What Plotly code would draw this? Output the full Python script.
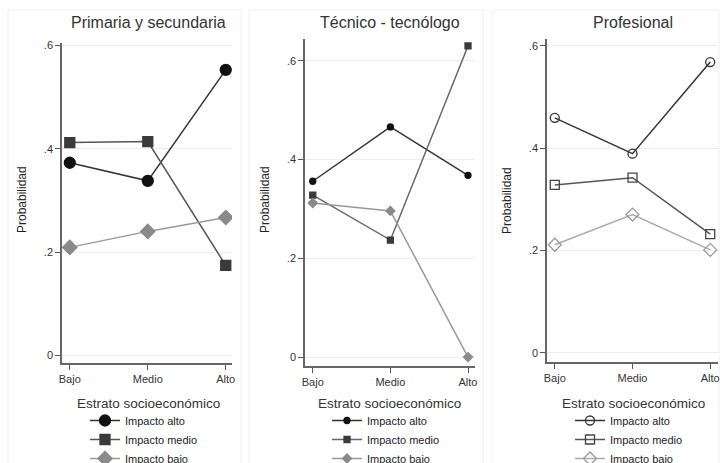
import plotly.graph_objects as go

W, H = 722, 463

categories = ["Bajo", "Medio", "Alto"]
series_names = ["Impacto alto", "Impacto medio", "Impacto bajo"]
panel_titles = ["Primaria y secundaria", "Técnico - tecnólogo", "Profesional"]

primaria_alto = [0.373, 0.338, 0.553]
primaria_medio = [0.412, 0.414, 0.174]
primaria_bajo = [0.209, 0.240, 0.267]

tecnico_alto = [0.356, 0.466, 0.368]
tecnico_medio = [0.328, 0.237, 0.630]
tecnico_bajo = [0.312, 0.296, 0.0]

profesional_alto = [0.459, 0.389, 0.568]
profesional_medio = [0.328, 0.342, 0.232]
profesional_bajo = [0.211, 0.270, 0.201]

y_tickvals = [0, 0.2, 0.4, 0.6]
y_ticktext = ["0", ".2", ".4", ".6"]

panels_data = [
    [primaria_alto, primaria_medio, primaria_bajo],
    [tecnico_alto, tecnico_medio, tecnico_bajo],
    [profesional_alto, profesional_medio, profesional_bajo],
]

# layout geometry (pixels)
geo = [
    dict(x0=62, x1=232, y0=43, y1=363, xr=[-0.1, 2.08], yr=[-0.015, 0.605], cx=148),
    dict(x0=305, x1=475, y0=39, y1=366, xr=[-0.1, 2.09], yr=[-0.018, 0.644], cx=390),
    dict(x0=547, x1=718, y0=39, y1=362, xr=[-0.1, 2.1], yr=[-0.018, 0.613], cx=633),
]

styles = [
    [  # panel 1: filled, large
        dict(symbol="circle", size=11, mcolor="#111111", lcolor="#333333"),
        dict(symbol="square", size=10, mcolor="#3a3a3a", lcolor="#555555"),
        dict(symbol="diamond", size=11, mcolor="#8a8a8a", lcolor="#999999"),
    ],
    [  # panel 2: filled, small
        dict(symbol="circle", size=6, mcolor="#111111", lcolor="#333333"),
        dict(symbol="square", size=6, mcolor="#3a3a3a", lcolor="#666666"),
        dict(symbol="diamond", size=7, mcolor="#8a8a8a", lcolor="#999999"),
    ],
    [  # panel 3: hollow
        dict(symbol="circle-open", size=9, mcolor="#333333", lcolor="#333333"),
        dict(symbol="square-open", size=9, mcolor="#444444", lcolor="#555555"),
        dict(symbol="diamond-open", size=10, mcolor="#999999", lcolor="#aaaaaa"),
    ],
]

fig = go.Figure()
xnum = [0, 1, 2]
legend_ids = ["legend", "legend2", "legend3"]

for p in range(3):
    ax = "" if p == 0 else str(p + 1)
    for s in range(3):
        st = styles[p][s]
        fig.add_trace(go.Scatter(
            x=xnum, y=panels_data[p][s], mode="lines+markers",
            name=series_names[s],
            xaxis="x" + ax, yaxis="y" + ax,
            legend=legend_ids[p],
            line=dict(color=st["lcolor"], width=1.5),
            marker=dict(symbol=st["symbol"], size=st["size"], color=st["mcolor"],
                        line=dict(color=st["mcolor"], width=1.3)),
        ))

layout = dict(
    width=W, height=H,
    margin=dict(l=0, r=0, t=0, b=0, autoexpand=False),
    paper_bgcolor="white", plot_bgcolor="white",
    font=dict(family="Liberation Sans, Arial, sans-serif", color="#333333"),
    showlegend=True,
)

annotations = []
shapes = []
for p in range(3):
    g = geo[p]
    ax = "" if p == 0 else str(p + 1)
    layout["xaxis" + ax] = dict(
        domain=[g["x0"] / W, g["x1"] / W], range=g["xr"],
        anchor="y" + ax,
        tickvals=xnum, ticktext=categories,
        ticks="outside", ticklen=5, tickcolor="#555555",
        showline=True, linecolor="#666666", linewidth=1.5,
        showgrid=False, zeroline=False,
        tickfont=dict(size=11, color="#333333"),
    )
    layout["yaxis" + ax] = dict(
        domain=[1 - g["y1"] / H, 1 - g["y0"] / H], range=g["yr"],
        anchor="x" + ax,
        tickvals=y_tickvals, ticktext=y_ticktext,
        ticks="outside", ticklen=5, tickcolor="#555555",
        showline=True, linecolor="#666666", linewidth=1.5,
        showgrid=True, gridcolor="#eeeeee", gridwidth=1,
        zeroline=False,
        tickfont=dict(size=11, color="#333333"),
    )
    # panel title
    annotations.append(dict(
        text=panel_titles[p], x=g["cx"] / W, y=1 - 22 / H, xref="paper", yref="paper",
        showarrow=False, xanchor="center", yanchor="middle",
        font=dict(size=16, color="#333333")))
    # y title
    annotations.append(dict(
        text="Probabilidad", x=(g["x0"] - 40) / W, y=1 - 200 / H, xref="paper", yref="paper",
        showarrow=False, textangle=-90, xanchor="center", yanchor="middle",
        font=dict(size=12, color="#222222")))
    # x title
    annotations.append(dict(
        text="Estrato socioeconómico", x=g["cx"] / W, y=1 - 403 / H, xref="paper", yref="paper",
        showarrow=False, xanchor="center", yanchor="middle",
        font=dict(size=13.5, color="#333333")))
    # legend
    layout[legend_ids[p]] = dict(
        x=(g["cx"] - 63) / W, y=1 - 406 / H, xanchor="left", yanchor="top",
        xref="container", yref="container",
        bgcolor="rgba(0,0,0,0)", font=dict(size=11, color="#222222"),
        tracegroupgap=0, itemwidth=30,
    )

# faint panel borders
borders = [(8, 241), (249, 483), (492, 719)]
for x0, x1 in borders:
    shapes.append(dict(type="rect", xref="paper", yref="paper",
                       x0=x0 / W, x1=x1 / W, y0=-0.05, y1=1 - 10 / H,
                       line=dict(color="#f0f0f0", width=1), layer="below"))

layout["annotations"] = annotations
layout["shapes"] = shapes
fig.update_layout(**layout)

fig.write_html("out.html", config={"displayModeBar": False})

# remove the default page margin so the figure sits at the window's corner
with open("out.html", "r", encoding="utf-8") as f:
    html = f.read()
html = html.replace("<head>", "<head><style>html,body{margin:0;padding:0;overflow:hidden;}</style>", 1)
with open("out.html", "w", encoding="utf-8") as f:
    f.write(html)
